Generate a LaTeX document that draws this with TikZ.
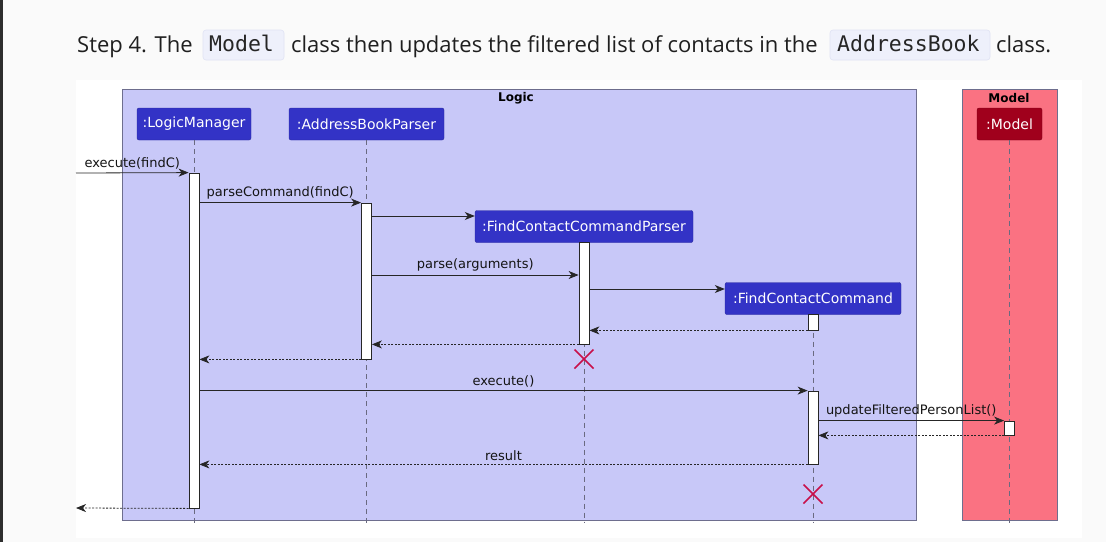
\documentclass[tikz,border=0pt]{standalone}
\usepackage{fontspec}
\setmainfont{DejaVu Sans}
\newfontfamily\topfont{Open Sans}
\newfontfamily\codefont{DejaVu Sans Mono}
\usetikzlibrary{arrows.meta}
\definecolor{pagebg}{HTML}{FAFAFA}
\definecolor{logicfill}{HTML}{C8C8F8}
\definecolor{modelfill}{HTML}{FA7282}
\definecolor{boxborder}{HTML}{6E6E8E}
\definecolor{partblue}{HTML}{3333C6}
\definecolor{partred}{HTML}{A0001C}
\definecolor{xcol}{HTML}{C8104A}
\definecolor{codebg}{HTML}{EEF0FB}
\definecolor{codeborder}{HTML}{E0E3F4}
\definecolor{lifecol}{HTML}{6A6A80}
\tikzset{
  part/.style={fill=partblue, draw=partblue!80!black, text=white, rounded corners=2pt,
    inner sep=0pt, minimum height=32pt, font=\fontsize{14}{16}\selectfont},
  modelpart/.style={part, fill=partred, draw=partred!80!black},
  act/.style={draw=black!85, fill=white, minimum width=10pt, inner sep=0pt, line width=0.8pt},
  lifeline/.style={draw=lifecol, dash pattern=on 5pt off 4pt, line width=0.6pt},
  msg/.style={draw=black!85, line width=0.8pt, -{Stealth[length=10pt,width=8pt,inset=3pt]}},
  ret/.style={msg, dash pattern=on 2pt off 1.5pt},
  lbl/.style={font=\fontsize{13}{15}\selectfont, text=black!92, inner sep=0pt},
  grouptitle/.style={font=\bfseries\fontsize{12}{14}\selectfont, inner sep=0pt},
  codebox/.style={fill=codebg, draw=codeborder, rounded corners=3pt, line width=0.6pt},
  toptext/.style={font=\topfont\fontsize{22}{26}\selectfont, text=black!88, inner sep=0pt, anchor=base west},
  codetext/.style={font=\codefont\fontsize{21.5}{24}\selectfont, text=black!85, inner sep=0pt, anchor=base west},
  cross/.style={draw=xcol, line width=1.6pt}
}
\begin{document}
\begin{tikzpicture}[x=1pt,y=-1pt]
\useasboundingbox (0,0) rectangle (1106,542);
\fill[pagebg] (0,0) rectangle (1106,542);
\fill[white] (76,80) rectangle (1082,538);
\fill[black!82] (0,0) rectangle (3,542);

% top sentence
\draw[codebox] (203,30) rectangle (284,60);
\draw[codebox] (830,30) rectangle (990,60);
\node[toptext] (t1) at (77,52) {Step 4. The};
\node[codetext] (c1) at (209,51) {Model};
\node[toptext] (t2) at (291,52) {class then updates the filtered list of contacts in the};
\node[codetext] (c2) at (837,51) {AddressBook};
\node[toptext] (t3) at (996,52) {class.};

% group boxes
\draw[fill=logicfill, draw=boxborder, line width=0.8pt] (122,89) rectangle (916,520);
\draw[fill=modelfill, draw=boxborder, line width=0.8pt] (962,89) rectangle (1057,520);
\node[grouptitle] (glogic) at (516,98) {Logic};
\node[grouptitle] (gmodel) at (1009,98) {Model};

% participants
\node[part, minimum width=114pt] (lm) at (194,124) {:LogicManager};
\node[part, minimum width=155pt] (abp) at (366.5,124) {:AddressBookParser};
\node[part, minimum width=218pt] (fccp) at (584,226.5) {:FindContactCommandParser};
\node[part, minimum width=176pt] (fcc) at (813,298.5) {:FindContactCommand};
\node[modelpart, minimum width=65pt] (mp) at (1009.5,124) {:Model};

% lifeline ends
\coordinate (lmend) at (194,523);
\coordinate (abpend) at (366.5,523);
\coordinate (fccpend) at (584,523);
\coordinate (fccend) at (813,523);
\coordinate (mpend) at (1009.5,523);
\draw[lifeline] (lm.south) -- (lmend);
\draw[lifeline] (abp.south) -- (abpend);
\draw[lifeline] (fccp.south) -- (fccpend);
\draw[lifeline] (fcc.south) -- (fccend);
\draw[lifeline] (mp.south) -- (mpend);

% activations
\node[act, minimum height=335pt] (a1) at (194,340.5) {};
\node[act, minimum height=156pt] (a2) at (366.5,281) {};
\node[act, minimum height=102pt] (a3) at (584,293) {};
\node[act, minimum height=16pt] (a4) at (813,322) {};
\node[act, minimum height=73pt] (a5) at (813,427.5) {};
\node[act, minimum height=14pt] (a6) at (1009.5,428) {};

% external endpoints
\coordinate (inA) at (76,173);
\coordinate (outA) at (76,508);

% messages
\draw[msg] (inA) -- node[lbl, above=3pt] {execute(findC)} (a1.north west);
\draw[msg] (a1.east |- a2.north) -- node[lbl, above=3pt] {parseCommand(findC)} (a2.north west);
\draw[msg] (a2.east |- 0,216) -- (fccp.west |- 0,216);
\draw[msg] (a2.east |- 0,275) -- node[lbl, above=3pt] {parse(arguments)} (a3.west |- 0,275);
\draw[msg] (a3.east |- 0,289) -- (fcc.west |- 0,289);
\draw[ret] (a4.south west) -- (a3.east |- a4.south);
\draw[ret] (a3.south west) -- (a2.east |- a3.south);
\draw[ret] (a2.south west) -- (a1.east |- a2.south);
\draw[msg] (a1.east |- a5.north) -- node[lbl, above=3pt] {execute()} (a5.north west);
\draw[msg] (a5.east |- a6.north) -- node[lbl, above=3pt] {updateFilteredPersonList()} (a6.north west);
\draw[ret] (a6.south west) -- (a5.east |- a6.south);
\draw[ret] (a5.south west) -- node[lbl, above=3pt] {result} (a1.east |- a5.south);
\draw[ret] (a1.south west) -- (outA);

% destroy marks
\coordinate (x1) at (584,359);
\coordinate (x2) at (813,494);
\draw[cross] ([shift={(-9.5,-9.5)}]x1) -- ([shift={(9.5,9.5)}]x1);
\draw[cross] ([shift={(-9.5,9.5)}]x1) -- ([shift={(9.5,-9.5)}]x1);
\draw[cross] ([shift={(-9.5,-9.5)}]x2) -- ([shift={(9.5,9.5)}]x2);
\draw[cross] ([shift={(-9.5,9.5)}]x2) -- ([shift={(9.5,-9.5)}]x2);
\end{tikzpicture}
\end{document}
